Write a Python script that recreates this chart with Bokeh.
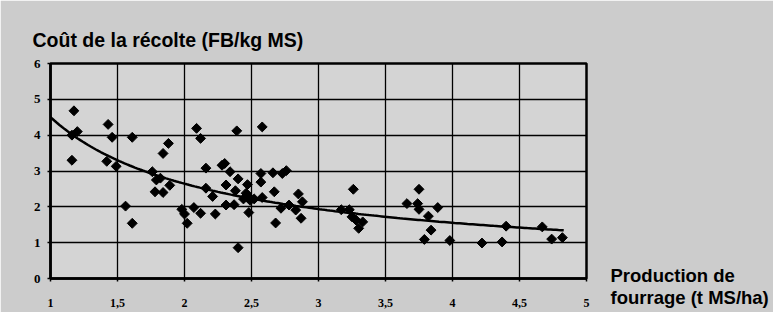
import numpy as np
from bokeh.plotting import figure
from bokeh.models import Range1d, FixedTicker, Label, Title, ColumnDataSource
from bokeh.embed import file_html
from bokeh.resources import INLINE

# Data
production = [1.16, 1.16, 1.20, 1.175, 1.43, 1.46, 1.61, 1.42, 1.49, 1.56,
              1.61, 1.76, 1.79, 1.82, 1.78, 1.84, 1.89, 1.84, 1.88, 1.98,
              2.00, 2.02, 2.07, 2.12, 2.23, 2.09, 2.12, 2.39, 2.58, 2.16,
              2.28, 2.30, 2.34, 2.40, 2.57, 2.66, 2.73, 2.76, 2.31, 2.47,
              2.57, 2.16, 2.21, 2.38, 2.46, 2.67, 2.85, 2.31, 2.37, 2.44,
              2.47, 2.49, 2.52, 2.48, 2.58, 2.68, 2.72, 2.78, 2.83, 2.88,
              2.87, 2.40, 3.17, 3.23, 3.26, 3.25, 3.28, 3.33, 3.30, 3.66,
              3.74, 3.75, 3.75, 3.89, 3.82, 3.84, 3.79, 3.98, 4.22, 4.37,
              4.40, 4.67, 4.74, 4.82]
cout = [3.30, 4.00, 4.10, 4.68, 4.30, 3.94, 3.94, 3.27, 3.13, 2.02,
        1.54, 2.98, 2.75, 2.80, 2.42, 2.40, 2.60, 3.49, 3.77, 1.93,
        1.80, 1.54, 1.98, 1.82, 1.80, 4.19, 3.91, 4.12, 4.23, 3.08,
        3.16, 3.21, 2.98, 2.78, 2.93, 2.95, 2.93, 3.01, 2.61, 2.62,
        2.69, 2.52, 2.29, 2.45, 2.38, 2.42, 2.36, 2.05, 2.06, 2.22,
        2.32, 2.18, 2.22, 1.84, 2.26, 1.55, 1.96, 2.05, 1.91, 2.14,
        1.68, 0.86, 1.92, 1.92, 2.49, 1.72, 1.63, 1.58, 1.40, 2.09,
        2.09, 2.49, 1.93, 1.98, 1.74, 1.35, 1.09, 1.06, 0.99, 1.02,
        1.46, 1.44, 1.10, 1.14]

x_ticks = [1, 1.5, 2, 2.5, 3, 3.5, 4, 4.5, 5]
x_tick_labels = ["1", "1,5", "2", "2,5", "3", "3,5", "4", "4,5", "5"]
y_ticks = [0, 1, 2, 3, 4, 5, 6]

title_text = "Coût de la récolte (FB/kg MS)"
xlabel_lines = ["Production de", "fourrage (t MS/ha)"]

# Power trend line fitted on the data (like a spreadsheet power trendline)
b, ln_a = np.polyfit(np.log(production), np.log(cout), 1)
a = np.exp(ln_a)
trend_x = np.linspace(0.97, 4.83, 200)
trend_y = a * trend_x ** b

p = figure(width=773, height=312, x_range=Range1d(1, 5), y_range=Range1d(0, 6),
           output_backend="svg", toolbar_location=None, title=None,
           min_border_left=50, min_border_right=187, min_border_top=63,
           min_border_bottom=34)
p.border_fill_color = "#cccccc"
p.background_fill_color = "#d4d4d4"
p.outline_line_color = "black"
p.outline_line_width = 2.5

for ax in (p.xaxis, p.yaxis):
    ax.axis_line_color = "black"
    ax.axis_line_width = 2.5
    ax.major_tick_line_color = "black"
    ax.major_tick_line_width = 1.5
    ax.major_tick_in = 0
    ax.major_tick_out = 3
    ax.minor_tick_line_color = None
    ax.major_label_text_font = "Liberation Serif"
    ax.major_label_text_font_style = "bold"
    ax.major_label_text_color = "black"

p.xaxis.major_label_text_font_size = "12px"
p.yaxis.major_label_text_font_size = "13px"
p.xaxis.ticker = FixedTicker(ticks=x_ticks)
p.xaxis.major_label_overrides = {t: l for t, l in zip(x_ticks, x_tick_labels)}
p.xaxis.major_label_standoff = 17
p.yaxis.ticker = FixedTicker(ticks=y_ticks)
p.yaxis.major_label_standoff = 7

p.xgrid.ticker = FixedTicker(ticks=x_ticks)
p.ygrid.ticker = FixedTicker(ticks=y_ticks)
for g in (p.xgrid, p.ygrid):
    g.grid_line_color = "black"
    g.grid_line_width = 1.3
    g.grid_line_alpha = 1.0

p.line(trend_x, trend_y, line_color="black", line_width=2.5)
src = ColumnDataSource(dict(x=production, y=cout))
p.scatter("x", "y", source=src, marker="square", angle=np.pi / 4, size=7,
          fill_color="black", line_color="black")

p.add_layout(Title(text=title_text, align="left", offset=-18, standoff=25,
                   text_font="Liberation Sans", text_font_style="bold",
                   text_font_size="19.5px", text_color="black"), "above")
p.add_layout(Label(x=24, y=14, x_units="screen", y_units="screen",
                   text="\n".join(xlabel_lines), text_font="Liberation Sans",
                   text_font_style="bold", text_font_size="18.5px",
                   text_line_height=1.08,
                   text_color="black", text_baseline="top"), "right")

open("out.html", "w").write(file_html(p, INLINE))
